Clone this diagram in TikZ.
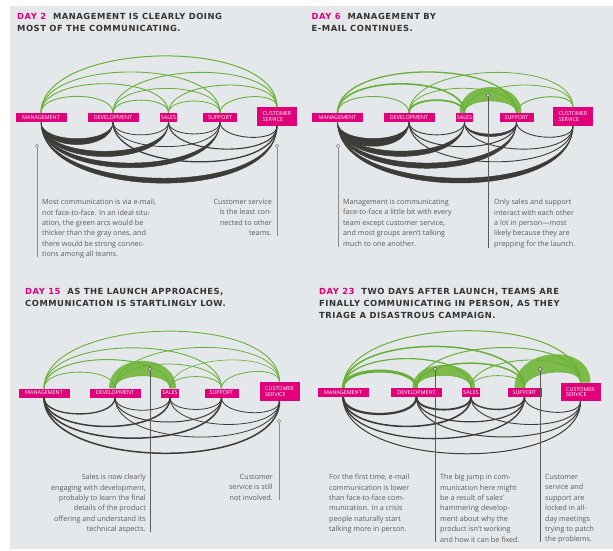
\documentclass[tikz,border=0pt]{standalone}
\usepackage{fontspec}
\setmainfont{Open Sans}
\newfontfamily\headfont[LetterSpace=6]{DejaVu Sans}
\usetikzlibrary{positioning}

\definecolor{hbrpink}{HTML}{E2007A}
\definecolor{hbrgreen}{HTML}{68B038}
\definecolor{lightgreen}{HTML}{7CBB4A}
\definecolor{arcgray}{HTML}{3B3C37}
\definecolor{bggray}{HTML}{E5E8EB}
\definecolor{txtgray}{HTML}{5A5A5A}
\definecolor{headgray}{HTML}{333333}
\definecolor{linegray}{HTML}{8A8A8A}

% crescents: green above the boxes, gray below
\newcommand\grncres[4]{%
  \fill[lightgreen] (#1.north) to[out=90,in=90,looseness=0.78] (#2.north)
    -- ([xshift=#4pt]#2.north) to[out=90,in=90,looseness=#3] ([xshift=-#4pt]#1.north) -- cycle;
  \draw[hbrgreen, line width=0.5pt] (#1.north) to[out=90,in=90,looseness=0.78] (#2.north);}
\newcommand\grycres[3]{%
  \filldraw[arcgray, line width=0.5pt] (#1.south) to[out=-90,in=-90,looseness=0.78] (#2.south)
    to[out=-90,in=-90,looseness=#3] (#1.south) -- cycle;}

\begin{document}
\begin{tikzpicture}[x=1pt, y=-1pt,
  team/.style={fill=hbrpink, text=white, font=\fontsize{5.4}{5.8}\selectfont,
    minimum width=#1, minimum height=9pt, inner sep=1pt, align=left},
  garc/.style={draw=hbrgreen, line width=#1pt, out=90, in=90, looseness=0.78},
  karc/.style={draw=arcgray, line width=#1pt, out=-90, in=-90, looseness=0.78},
  head/.style={anchor=north west, inner sep=0pt, align=left, text=headgray,
    font=\headfont\bfseries\fontsize{8.4}{12}\selectfont},
  note/.style={inner sep=0pt, text=txtgray, font=\fontsize{7.2}{10.4}\selectfont},
  dot/.style={circle, draw=#1, fill=bggray, line width=0.6pt, inner sep=0pt, minimum size=3.6pt},
  pointer/.style={draw=#1, line width=0.7pt}]

\useasboundingbox (0,0) rectangle (613,550);
\fill[bggray] (10,6) rectangle (613,549);

% ---------- day 2
\node[head] (t1) at (17,12.7) {\textcolor{hbrpink}{DAY 2}\ \ MANAGEMENT IS CLEARLY DOING\\MOST OF THE COMMUNICATING.};
\node[team=51pt] (mg1) at (41,117.5) {MANAGEMENT};
\node[team=51pt] (dv1) at (113,117.5) {DEVELOPMENT};
\node[team=17pt] (sl1) at (168.5,117.5) {SALES};
\node[team=34pt] (sp1) at (220,117.5) {SUPPORT};
\node[team=40pt, minimum height=18.5pt] (cs1) at (277,116.7) {CUSTOMER\\SERVICE};
\foreach \a/\b/\w in {mg1/dv1/0.9, mg1/sl1/0.9, mg1/sp1/0.9, mg1/cs1/1.0, dv1/sl1/0.9,
  dv1/sp1/0.8, dv1/cs1/0.9, sl1/sp1/0.8, sl1/cs1/0.9, sp1/cs1/0.9}
  \draw[garc=\w] (\a) to (\b);
\grycres{mg1}{dv1}{1.06}
\grycres{mg1}{sl1}{0.92}
\grycres{mg1}{sp1}{0.87}
\grycres{mg1}{cs1}{0.85}
\foreach \a/\b/\w in {dv1/sl1/0.8, dv1/sp1/0.8, dv1/cs1/1.3, sl1/sp1/0.8, sl1/cs1/1.1, sp1/cs1/0.9}
  \draw[karc=\w] (\a) to (\b);
\node[dot=linegray] (q1) at (37,146) {};
\coordinate (q1e) at (37,257);
\draw[pointer=linegray] (q1) -- (q1e);
\node[note, anchor=north west, align=left] (n1) at (42,199) {Most communication is via e-mail,\\not face-to-face. In an ideal situ-\\ation, the green arcs would be\\thicker than the gray ones, and\\there would be strong connec-\\tions among all teams.};
\node[dot=linegray] (q2) at (277,146) {};
\coordinate (q2e) at (277,236);
\draw[pointer=linegray] (q2) -- (q2e);
\node[note, anchor=north east, align=right] (n2) at (272,199) {Customer service\\is the least con-\\nected to other\\teams.};

% ---------- day 6
\node[head] (t2) at (311.5,12.7) {\textcolor{hbrpink}{DAY 6}\ \ MANAGEMENT BY\\E-MAIL CONTINUES.};
\node[team=51pt] (mg2) at (337.5,117.5) {MANAGEMENT};
\node[team=51pt] (dv2) at (409,117.5) {DEVELOPMENT};
\node[team=17pt] (sl2) at (464.5,117.5) {SALES};
\node[team=34pt] (sp2) at (516.5,117.5) {SUPPORT};
\node[team=40pt, minimum height=18.5pt] (cs2) at (573,116.7) {CUSTOMER\\SERVICE};
\grncres{sl2}{sp2}{1.42}{5}
\foreach \a/\b/\w in {mg2/dv2/0.9, mg2/sl2/1.6, mg2/sp2/1.3, dv2/sl2/1.8,
  dv2/sp2/0.8, dv2/cs2/0.8, sl2/cs2/0.8, sp2/cs2/1.0}
  \draw[garc=\w] (\a) to (\b);
\grycres{mg2}{dv2}{1.15}
\grycres{mg2}{sl2}{0.92}
\grycres{mg2}{sp2}{0.88}
\grycres{mg2}{cs2}{0.85}
\grycres{sl2}{sp2}{0.94}
\foreach \a/\b/\w in {dv2/sl2/0.9, dv2/sp2/1.0, dv2/cs2/0.9, sl2/cs2/0.9, sp2/cs2/0.9}
  \draw[karc=\w] (\a) to (\b);
\node[dot=linegray] (q3) at (338,146) {};
\coordinate (q3e) at (338,247);
\draw[pointer=linegray] (q3) -- (q3e);
\node[note, anchor=north west, align=left] (n3) at (343,199) {Management is communicating\\face-to-face a little bit with every\\team except customer service,\\and most groups aren’t talking\\much to one another.};
\node[dot=txtgray] (q4) at (488,95) {};
\coordinate (q4e) at (488,248);
\draw[pointer=txtgray] (q4) -- (q4e);
\node[note, anchor=north west, align=left] (n4) at (494,199) {Only sales and support\\interact with each other\\a lot in person—most\\likely because they are\\prepping for the launch.};

% ---------- day 15
\node[head] (t3) at (25,288.3) {\textcolor{hbrpink}{DAY 15}\ \ AS THE LAUNCH APPROACHES,\\COMMUNICATION IS STARTLINGLY LOW.};
\node[team=51pt] (mg3) at (44,393) {MANAGEMENT};
\node[team=51pt] (dv3) at (115,393) {DEVELOPMENT};
\node[team=17pt] (sl3) at (170,393) {SALES};
\node[team=34pt] (sp3) at (221.5,393) {SUPPORT};
\node[team=40pt, minimum height=18.5pt] (cs3) at (279.5,391.5) {CUSTOMER\\SERVICE};
\grncres{dv3}{sl3}{1.4}{6}
\foreach \a/\b/\w in {mg3/dv3/0.8, mg3/sl3/1.0, mg3/sp3/0.9, mg3/cs3/0.9, dv3/sp3/0.8,
  dv3/cs3/0.8, sl3/sp3/0.8, sl3/cs3/0.6, sp3/cs3/0.8}
  \draw[garc=\w] (\a) to (\b);
\foreach \a/\b/\w in {mg3/dv3/1.3, mg3/sl3/1.5, mg3/sp3/1.5, mg3/cs3/1.5, dv3/sl3/0.8,
  dv3/sp3/1.0, dv3/cs3/0.8, sl3/sp3/0.8, sl3/cs3/0.8, sp3/cs3/0.8}
  \draw[karc=\w] (\a) to (\b);
\node[dot=txtgray] (q5) at (150,369) {};
\coordinate (q5e) at (150,532);
\draw[pointer=txtgray] (q5) -- (q5e);
\node[note, anchor=north east, align=right] (n5) at (146,474) {Sales is now clearly\\engaging with development,\\probably to learn the final\\details of the product\\offering and understand its\\technical aspects.};
\node[dot=linegray] (q6) at (279,421) {};
\coordinate (q6e) at (279,500);
\draw[pointer=linegray] (q6) -- (q6e);
\node[note, anchor=north east, align=right] (n6) at (273,474) {Customer\\service is still\\not involved.};

% ---------- day 23
\node[head] (t4) at (319,288.3) {\textcolor{hbrpink}{DAY 23}\ \ TWO DAYS AFTER LAUNCH, TEAMS ARE\\FINALLY COMMUNICATING IN PERSON, AS THEY\\TRIAGE A DISASTROUS CAMPAIGN.};
\node[team=51pt] (mg4) at (343,392.5) {MANAGEMENT};
\node[team=51pt] (dv4) at (416.5,392.5) {DEVELOPMENT};
\node[team=17pt] (sl4) at (471,392.5) {SALES};
\node[team=34pt] (sp4) at (524.5,392.5) {SUPPORT};
\node[team=40pt, minimum height=18.5pt] (cs4) at (580.5,392) {CUSTOMER\\SERVICE};
\grncres{dv4}{sl4}{1.25}{4}
\grncres{sp4}{cs4}{1.38}{10}
\foreach \a/\b/\w in {mg4/dv4/3.0, mg4/sl4/1.2, mg4/sp4/1.5, mg4/cs4/1.0, dv4/sp4/1.5,
  dv4/cs4/1.0, sl4/sp4/0.8, sl4/cs4/0.9}
  \draw[garc=\w] (\a) to (\b);
\foreach \a/\b/\w in {mg4/dv4/2.2, mg4/sl4/1.6, mg4/sp4/1.3, mg4/cs4/1.0, dv4/sl4/1.8,
  dv4/sp4/1.2, dv4/cs4/1.0, sl4/sp4/1.4, sl4/cs4/0.9, sp4/cs4/0.9}
  \draw[karc=\w] (\a) to (\b);
\node[dot=txtgray] (q7) at (435,369) {};
\coordinate (q7e) at (435,542);
\draw[pointer=txtgray] (q7) -- (q7e);
\node[dot=txtgray] (q8) at (540,369) {};
\coordinate (q8e) at (540,542);
\draw[pointer=txtgray] (q8) -- (q8e);
\node[note, anchor=north west, align=left] (n7) at (329,474) {For the first time, e-mail\\communication is lower\\than face-to-face com-\\munication. In a crisis\\people naturally start\\talking more in person.};
\node[note, anchor=north west, align=left] (n8) at (440,474) {The big jump in com-\\munication here might\\be a result of sales’\\hammering develop-\\ment about why the\\product isn’t working\\and how it can be fixed.};
\node[note, anchor=north west, align=left] (n9) at (545,474) {Customer\\service and\\support are\\locked in all-\\day meetings\\trying to patch\\the problems.};
\end{tikzpicture}
\end{document}
